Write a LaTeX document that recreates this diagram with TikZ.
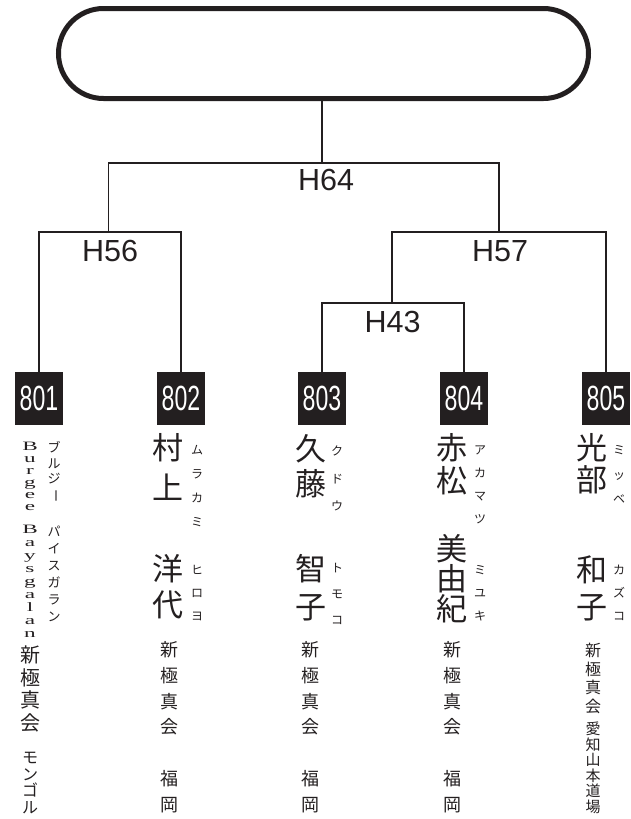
\documentclass[tikz,border=0pt]{standalone}
\usepackage{fontspec}
\setmainfont{Liberation Sans}
\newfontfamily\jp{Noto Sans CJK JP}
\newfontfamily\lat{Liberation Serif}
\newfontfamily\hv{Liberation Sans}
\definecolor{ink}{HTML}{231F20}
\newcommand\ltr[1]{\scalebox{1.45}[0.8]{#1}}
\newcommand\numtxt[1]{\scalebox{0.66}[1]{#1}}
\newcommand\vbar{\rotatebox[origin=c]{-90}{ー}}
\tikzset{
  conn/.style={draw=ink, line width=1.8pt},
  numbox/.style={fill=ink, minimum width=48pt, minimum height=53pt, inner sep=0pt,
    text=white, font=\hv\fontsize{35}{35}\selectfont},
  hlabel/.style={anchor=base, inner sep=0pt, text=ink, font=\hv\fontsize{30.5}{30}\selectfont},
  chr/.style={inner sep=0pt, text=ink, text height=.83em, text depth=.07em},
  latchr/.style={inner sep=0pt, text=ink, text height=8.5pt, text depth=2pt},
}
% name, x, y of first centre, pitch, font, list
\newcommand\vcol[6]{%
  \foreach \chx [count=\i from 0] in {#6} {%
    \node[chr, font=#5] (#1-\i) at (#2,{#3+\i*#4}) {\chx};}}
\begin{document}
\begin{tikzpicture}[x=1pt, y=-1pt]
\useasboundingbox (0,0) rectangle (630,819);
% root
\node[draw=ink, line width=5pt, rounded corners=45pt, minimum width=530pt,
      minimum height=90pt, inner sep=0pt] (root) at (323.5,53.5) {};
% junctions
\coordinate (j64) at (322,163);
\coordinate (j56) at (108.5,232);
\coordinate (j57) at (499,232);
\coordinate (j43) at (392,303);
% competitor boxes
\node[numbox] (n801) at (39,398.5)  {\numtxt{801}};
\node[numbox] (n802) at (181,398.5) {\numtxt{802}};
\node[numbox] (n803) at (322,398.5) {\numtxt{803}};
\node[numbox] (n804) at (464,398.5) {\numtxt{804}};
\node[numbox] (n805) at (606,398.5) {\numtxt{805}};
% connectors
\draw[conn] (n801.north) |- (j56) -| (n802.north);
\draw[conn] (n803.north) |- (j43) -| (n804.north);
\draw[conn] (j43) |- (j57) -| (n805.north);
\draw[conn] (j56) |- (j64) -| (j57);
\draw[conn] (j64) -- (j64 |- root.south);
% match labels
\node[hlabel] (h64) at (326,190) {H64};
\node[hlabel] (h56) at (110,261) {H56};
\node[hlabel] (h57) at (500,261) {H57};
\node[hlabel] (h43) at (392.5,332) {H43};
% 801
\foreach \chx [count=\i from 0] in {B,u,r,g,e,e}
  \node[latchr, font=\lat\fontsize{16}{16}\selectfont] (a1-\i) at (30,{447+\i*12}) {\ltr{\chx}};
\foreach \chx [count=\i from 0] in {B,a,y,s,g,a,l,a,n}
  \node[latchr, font=\lat\fontsize{16}{16}\selectfont] (a2-\i) at (30,{530+\i*13}) {\ltr{\chx}};
\vcol{a3}{54}{449}{15.3}{\jp\fontsize{13}{13}\selectfont}{ブ,ル,ジ,\vbar}
\vcol{a4}{54}{533}{17}{\jp\fontsize{13}{13}\selectfont}{パ,イ,ス,ガ,ラ,ン}
\vcol{a5}{30}{659}{22.5}{\jp\fontsize{20}{20}\selectfont}{新,極,真,会}
\vcol{a6}{30}{760}{16.5}{\jp\fontsize{16}{16}\selectfont}{モ,ン,ゴ,ル}
% 802
\vcol{b1}{168}{456}{40}{\jp\fontsize{31}{31}\selectfont}{村,上}
\vcol{b2}{197}{451}{24}{\jp\fontsize{12}{12}\selectfont}{ム,ラ,カ,ミ}
\vcol{b3}{168}{577}{36}{\jp\fontsize{31}{31}\selectfont}{洋,代}
\vcol{b4}{197}{571}{23}{\jp\fontsize{12}{12}\selectfont}{ヒ,ロ,ヨ}
\vcol{b5}{169}{653}{25.7}{\jp\fontsize{18}{18}\selectfont}{新,極,真,会}
\vcol{b6}{169}{782}{26}{\jp\fontsize{18}{18}\selectfont}{福,岡}
% 803
\vcol{c1}{311}{457}{35}{\jp\fontsize{31}{31}\selectfont}{久,藤}
\vcol{c2}{337}{452}{27.5}{\jp\fontsize{12}{12}\selectfont}{ク,ド,ウ}
\vcol{c3}{311}{577}{38}{\jp\fontsize{31}{31}\selectfont}{智,子}
\vcol{c4}{337}{569}{26}{\jp\fontsize{12}{12}\selectfont}{ト,モ,コ}
\vcol{c5}{310}{653}{25.7}{\jp\fontsize{18}{18}\selectfont}{新,極,真,会}
\vcol{c6}{310}{782}{26}{\jp\fontsize{18}{18}\selectfont}{福,岡}
% 804
\vcol{d1}{452}{456}{33}{\jp\fontsize{31}{31}\selectfont}{赤,松}
\vcol{d2}{480}{451}{23}{\jp\fontsize{12}{12}\selectfont}{ア,カ,マ,ツ}
\vcol{d3}{452}{557}{30}{\jp\fontsize{31}{31}\selectfont}{美,由,紀}
\vcol{d4}{480}{571}{23}{\jp\fontsize{12}{12}\selectfont}{ミ,ユ,キ}
\vcol{d5}{452}{653}{25.7}{\jp\fontsize{18}{18}\selectfont}{新,極,真,会}
\vcol{d6}{452}{782}{26}{\jp\fontsize{18}{18}\selectfont}{福,岡}
% 805
\vcol{e1}{592}{456}{32}{\jp\fontsize{31}{31}\selectfont}{光,部}
\vcol{e2}{619}{451}{24.5}{\jp\fontsize{12}{12}\selectfont}{ミ,ッ,ベ}
\vcol{e3}{592}{578}{37}{\jp\fontsize{31}{31}\selectfont}{和,子}
\vcol{e4}{619}{571}{23}{\jp\fontsize{12}{12}\selectfont}{カ,ズ,コ}
\vcol{e5}{593}{653}{18.5}{\jp\fontsize{16}{16}\selectfont}{新,極,真,会}
\vcol{e6}{593}{731}{15.5}{\jp\fontsize{15}{15}\selectfont}{愛,知,山,本,道,場}
\end{tikzpicture}
\end{document}
